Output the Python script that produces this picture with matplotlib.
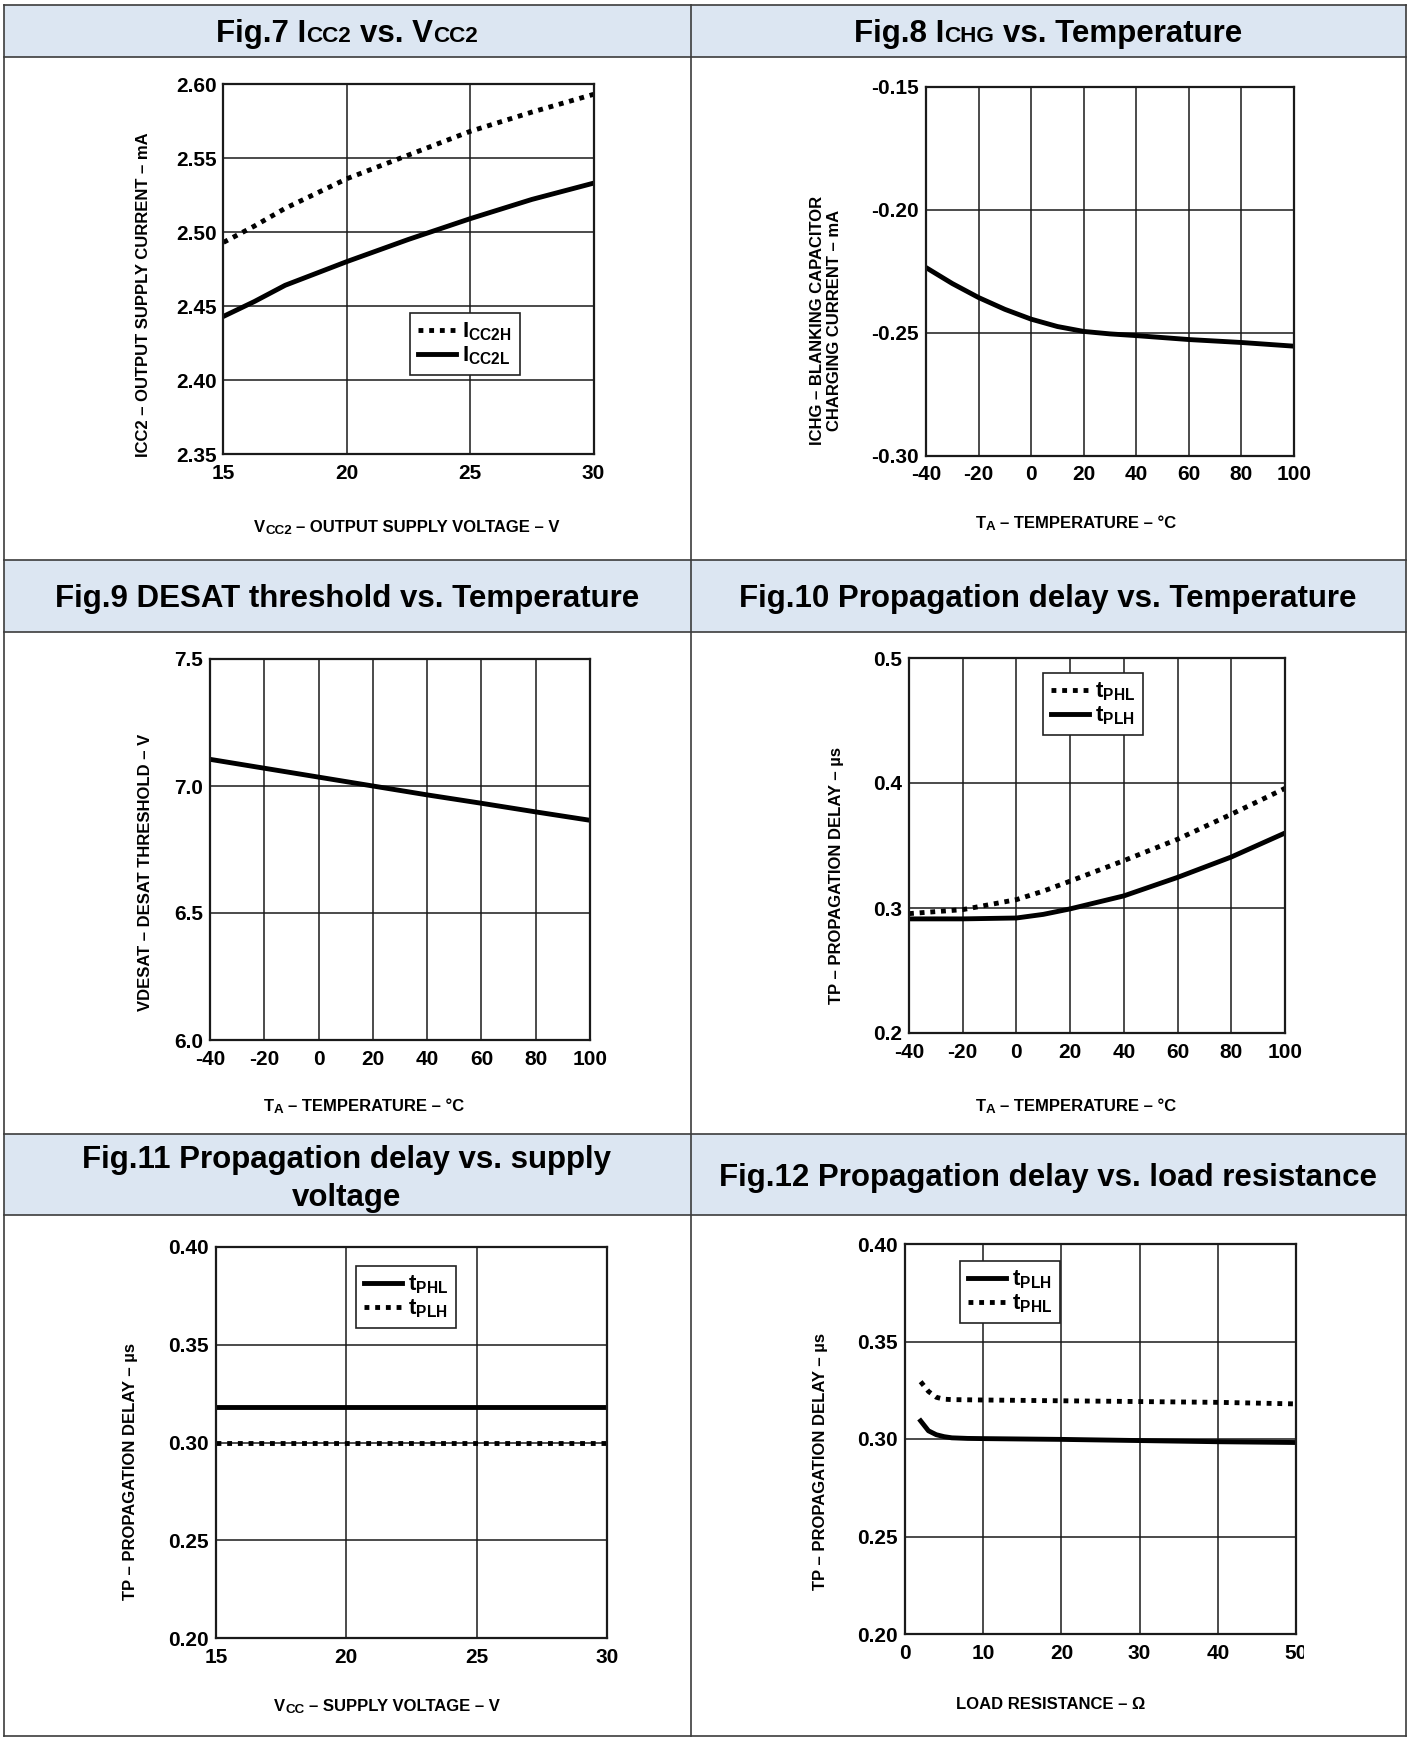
import matplotlib
matplotlib.use("Agg")
import matplotlib.pyplot as plt
from matplotlib.patches import Rectangle
from matplotlib.transforms import Bbox, TransformedBbox

W, H = 1409, 1738

# Fig.7 ICC2 vs VCC2
vcc2 = [15, 16.25, 17.5, 18.75, 20, 22.5, 25, 27.5, 30]
icc2h = [2.493, 2.504, 2.516, 2.526, 2.536, 2.552, 2.568, 2.581, 2.593]
icc2l = [2.443, 2.453, 2.464, 2.472, 2.480, 2.495, 2.509, 2.522, 2.533]

# Fig.8 ICHG vs temperature
temp8 = [-40, -30, -20, -10, 0, 10, 20, 30, 40, 60, 80, 100]
ichg = [-0.2235, -0.2300, -0.2357, -0.2405, -0.2445, -0.2475, -0.2495,
        -0.2505, -0.2512, -0.2528, -0.2540, -0.2555]

# Fig.9 DESAT threshold vs temperature
temp9 = [-40, -20, 0, 20, 40, 60, 80, 100]
vdesat = [7.105, 7.070, 7.035, 7.000, 6.965, 6.932, 6.898, 6.865]

# Fig.10 propagation delay vs temperature
temp10 = [-40, -20, 0, 10, 20, 40, 60, 80, 100]
tphl10 = [0.2955, 0.2987, 0.3067, 0.3135, 0.3215, 0.3379, 0.3550, 0.3750, 0.3957]
tplh10 = [0.2913, 0.2913, 0.2920, 0.2949, 0.2993, 0.3097, 0.3245, 0.3408, 0.3600]

# Fig.11 propagation delay vs supply voltage
vcc11 = [15, 20, 25, 30]
tphl11 = [0.318, 0.318, 0.318, 0.318]
tplh11 = [0.300, 0.300, 0.300, 0.300]

# Fig.12 propagation delay vs load resistance
rload = [2, 3, 4, 5, 6, 8, 10, 20, 30, 40, 50]
tplh12 = [0.3093, 0.3042, 0.3022, 0.3012, 0.3006, 0.3003, 0.3002, 0.2998,
          0.2992, 0.2986, 0.2982]
tphl12 = [0.3294, 0.3244, 0.3214, 0.3204, 0.3202, 0.3201, 0.3200, 0.3196,
          0.3192, 0.3188, 0.3180]

temp_ticks = [-40, -20, 0, 20, 40, 60, 80, 100]
temp_labels = ["-40", "-20", "0", "20", "40", "60", "80", "100"]

plt.rcParams["font.family"] = ["Liberation Sans", "DejaVu Sans"]
plt.rcParams["font.weight"] = "bold"
plt.rcParams["axes.unicode_minus"] = False
plt.rcParams["mathtext.fontset"] = "custom"
plt.rcParams["mathtext.rm"] = "Liberation Sans:bold"
plt.rcParams["mathtext.bf"] = "Liberation Sans:bold"
plt.rcParams["mathtext.it"] = "Liberation Sans:bold"

DOT = (0, (1, 1.2))
LINE_COLOR = "#3c3c3c"


def add_runs(bg, cx, base, runs, size):
    """Write pieces of text of mixed size side by side, centred on cx."""
    r = bg.figure.canvas.get_renderer()
    probe = bg.text(0, 0, "x x", fontsize=size)
    probe2 = bg.text(0, 0, "xx", fontsize=size)
    space = (probe.get_window_extent(r).width
             - probe2.get_window_extent(r).width)
    probe.remove()
    probe2.remove()
    items = []
    total = 0
    for s, k, dy in runs:
        lead = (len(s) - len(s.lstrip(" "))) * space * k
        t = bg.text(0, base + dy, s.lstrip(" "), fontsize=size * k,
                    ha="left", va="baseline")
        w = t.get_window_extent(r).width
        items.append((t, lead, w))
        total += lead + w
    x = cx - total / 2
    for t, lead, w in items:
        x += lead
        t.set_x(x)
        x += w


def make_axes(fig, box, xlim, ylim, xticks, xlabels, yticks, ylabels):
    left, top, right, bottom = box
    ax = fig.add_axes([left / W, 1 - bottom / H,
                       (right - left) / W, (bottom - top) / H])
    ax.set_xlim(*xlim)
    ax.set_ylim(*ylim)
    ax.set_xticks(xticks, xlabels)
    ax.set_yticks(yticks, ylabels)
    ax.tick_params(length=0, labelsize=15, pad=5)
    ax.tick_params(axis="x", pad=7)
    ax.grid(True, color="#1a1a1a", lw=1.1)
    for s in ax.spines.values():
        s.set_linewidth(1.6)
        s.set_color("#1a1a1a")
    return ax


def add_legend(fig, ax, x0, y0):
    leg = ax.legend(loc="upper left", bbox_to_anchor=(x0 / W, 1 - y0 / H),
                    bbox_transform=fig.transFigure, fontsize=16,
                    handlelength=1.7, handletextpad=0.3, borderpad=0.35,
                    labelspacing=0.05, fancybox=False, framealpha=1,
                    edgecolor="#222222", borderaxespad=0)
    leg.get_frame().set_linewidth(1.2)


def main():
    fig = plt.figure(figsize=(W / 100, H / 100), dpi=100)
    bg = fig.add_axes([0, 0, 1, 1])
    bg.set_xlim(0, W)
    bg.set_ylim(H, 0)
    bg.axis("off")

    # table frame and header bands
    for top, bottom in [(5, 57), (560, 632), (1134, 1215)]:
        bg.add_patch(Rectangle((4, top), 1402, bottom - top,
                               facecolor="#dce6f2", edgecolor="none"))
    for y in [5, 57, 560, 632, 1134, 1215, 1736]:
        bg.plot([4, 1406], [y, y], color=LINE_COLOR, lw=1.2)
    for x in [4, 691, 1406]:
        bg.plot([x, x], [5, 1736], color=LINE_COLOR, lw=1.2)

    # header titles
    add_runs(bg, 347, 42, [("Fig.7 I", 1, 0), ("CC2", 0.72, 0),
                           (" vs. V", 1, 0), ("CC2", 0.72, 0)], 22.5)
    add_runs(bg, 1048, 42, [("Fig.8 I", 1, 0), ("CHG", 0.72, 0),
                            (" vs. Temperature", 1, 0)], 22.5)
    add_runs(bg, 347, 607, [("Fig.9 DESAT threshold vs. Temperature", 1, 0)],
             22.5)
    add_runs(bg, 1048, 607,
             [("Fig.10 Propagation delay vs. Temperature", 1, 0)], 22.5)
    add_runs(bg, 347, 1168,
             [("Fig.11 Propagation delay vs. supply", 1, 0)], 22.5)
    add_runs(bg, 347, 1206, [("voltage", 1, 0)], 22.5)
    add_runs(bg, 1048, 1186,
             [("Fig.12 Propagation delay vs. load resistance", 1, 0)], 22.5)

    # Fig.7
    ax = make_axes(fig, (223.5, 84, 593.5, 454), (15, 30), (2.35, 2.60),
                   [15, 20, 25, 30], ["15", "20", "25", "30"],
                   [2.35, 2.40, 2.45, 2.50, 2.55, 2.60],
                   ["2.35", "2.40", "2.45", "2.50", "2.55", "2.60"])
    ax.plot(vcc2, icc2h, color="black", lw=3.5, ls=DOT,
            label=r"$\mathrm{I_{CC2H}}$")
    ax.plot(vcc2, icc2l, color="black", lw=3.5, label=r"$\mathrm{I_{CC2L}}$")
    add_legend(fig, ax, 410, 313)
    bg.text(144, 295, "ICC2 – OUTPUT SUPPLY CURRENT – mA", rotation=90,
            ha="center", va="center", fontsize=12)
    add_runs(bg, 407, 532, [("V", 1, 0), ("CC2", 0.8, 2),
                            (" – OUTPUT SUPPLY VOLTAGE – V", 1, 0)], 12)

    # Fig.8
    ax = make_axes(fig, (926, 87, 1294, 455.5), (-40, 100), (-0.30, -0.15),
                   temp_ticks, temp_labels, [-0.30, -0.25, -0.20, -0.15],
                   ["-0.30", "-0.25", "-0.20", "-0.15"])
    ax.plot(temp8, ichg, color="black", lw=3.5)
    bg.text(826, 320, "ICHG – BLANKING CAPACITOR\nCHARGING CURRENT – mA",
            rotation=90, ha="center", va="center", fontsize=12,
            linespacing=1.15)
    add_runs(bg, 1076, 528, [("T", 1, 0), ("A", 0.8, 2),
                             (" – TEMPERATURE – °C", 1, 0)], 12)

    # Fig.9
    ax = make_axes(fig, (210, 659, 590, 1040), (-40, 100), (6.0, 7.5),
                   temp_ticks, temp_labels, [6.0, 6.5, 7.0, 7.5],
                   ["6.0", "6.5", "7.0", "7.5"])
    ax.plot(temp9, vdesat, color="black", lw=3.5)
    bg.text(146, 872, "VDESAT – DESAT THRESHOLD – V", rotation=90,
            ha="center", va="center", fontsize=12)
    add_runs(bg, 364, 1111, [("T", 1, 0), ("A", 0.8, 2),
                             (" – TEMPERATURE – °C", 1, 0)], 12)

    # Fig.10
    ax = make_axes(fig, (909, 658, 1285, 1033), (-40, 100), (0.2, 0.5),
                   temp_ticks, temp_labels, [0.2, 0.3, 0.4, 0.5],
                   ["0.2", "0.3", "0.4", "0.5"])
    ax.plot(temp10, tphl10, color="black", lw=3.5, ls=DOT,
            label=r"$\mathrm{t_{PHL}}$")
    ax.plot(temp10, tplh10, color="black", lw=3.5,
            label=r"$\mathrm{t_{PLH}}$")
    add_legend(fig, ax, 1043, 673)
    bg.text(836, 875, "TP – PROPAGATION DELAY – µs", rotation=90,
            ha="center", va="center", fontsize=12)
    add_runs(bg, 1076, 1111, [("T", 1, 0), ("A", 0.8, 2),
                              (" – TEMPERATURE – °C", 1, 0)], 12)

    # Fig.11
    ax = make_axes(fig, (216, 1247, 607, 1638), (15, 30), (0.20, 0.40),
                   [15, 20, 25, 30], ["15", "20", "25", "30"],
                   [0.20, 0.25, 0.30, 0.35, 0.40],
                   ["0.20", "0.25", "0.30", "0.35", "0.40"])
    ax.plot(vcc11, tphl11, color="black", lw=3.5,
            label=r"$\mathrm{t_{PHL}}$")
    ax.plot(vcc11, tplh11, color="black", lw=3.5, ls=DOT,
            label=r"$\mathrm{t_{PLH}}$")
    add_legend(fig, ax, 356, 1266)
    bg.text(130, 1472, "TP – PROPAGATION DELAY – µs", rotation=90,
            ha="center", va="center", fontsize=12)
    add_runs(bg, 387, 1711, [("V", 1, 0), ("CC", 0.8, 2),
                             (" – SUPPLY VOLTAGE – V", 1, 0)], 12)

    # Fig.12
    ax = make_axes(fig, (905, 1244, 1296, 1634), (0, 50), (0.20, 0.40),
                   [0, 10, 20, 30, 40, 50], ["0", "10", "20", "30", "40", "50"],
                   [0.20, 0.25, 0.30, 0.35, 0.40],
                   ["0.20", "0.25", "0.30", "0.35", "0.40"])
    ax.plot(rload, tplh12, color="black", lw=3.5,
            label=r"$\mathrm{t_{PLH}}$")
    ax.plot(rload, tphl12, color="black", lw=3.5, ls=DOT,
            label=r"$\mathrm{t_{PHL}}$")
    add_legend(fig, ax, 960, 1261)
    # the last tick label is cut off in the source scan
    last = ax.xaxis.get_major_ticks()[-1].label1
    last.set_clip_box(TransformedBbox(Bbox([[0, 0], [1303.5 / W, 1]]),
                                      fig.transFigure))
    last.set_clip_on(True)
    bg.text(820, 1461, "TP – PROPAGATION DELAY – µs", rotation=90,
            ha="center", va="center", fontsize=12)
    add_runs(bg, 1051, 1709, [("LOAD RESISTANCE – Ω", 1, 0)], 12)

    fig.savefig("out.png", dpi=100)


if __name__ == "__main__":
    main()
